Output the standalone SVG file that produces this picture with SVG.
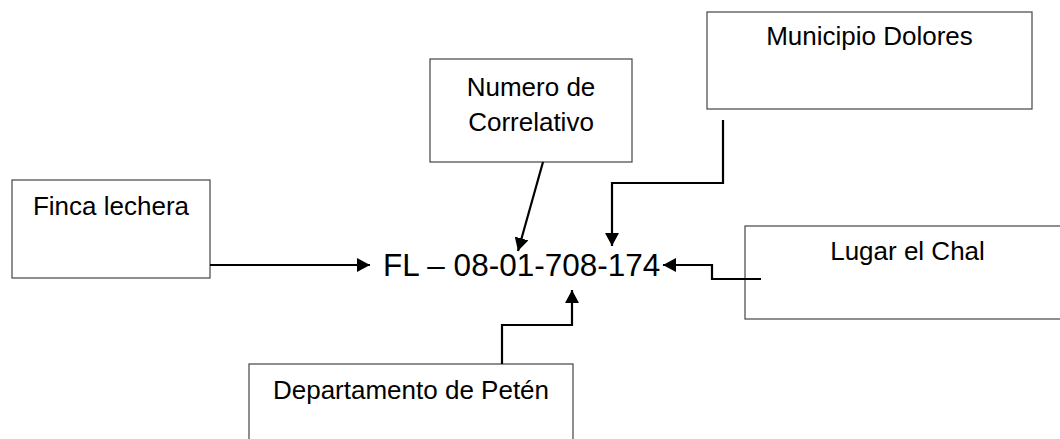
<svg xmlns="http://www.w3.org/2000/svg" width="1060" height="439" viewBox="0 0 1060 439">
  <style>
    .box { fill: #ffffff; stroke: #444444; stroke-width: 1.2; }
    .lbl { font-family: "Liberation Sans", Arial, sans-serif; font-size: 26px; fill: #000000; text-anchor: middle; }
    .code { font-family: "Liberation Sans", Arial, sans-serif; font-size: 31.5px; fill: #000000; }
    .conn { fill: none; stroke: #000000; stroke-width: 2.2; }
  </style>
  <defs>
    <marker id="arrow" viewBox="0 0 13 14" refX="13" refY="7" markerWidth="13" markerHeight="14" markerUnits="userSpaceOnUse" orient="auto">
      <path d="M0,0 L13,7 L0,14 Z" fill="#000000"/>
    </marker>
  </defs>
  <rect width="1060" height="439" fill="#ffffff"/>

  <g id="finca">
    <rect class="box" x="12" y="180" width="198" height="98"/>
    <text class="lbl" x="111" y="215">Finca lechera</text>
  </g>
  <g id="numero">
    <rect class="box" x="430" y="59" width="202" height="103"/>
    <text class="lbl" x="531" y="96">Numero de</text>
    <text class="lbl" x="531" y="131">Correlativo</text>
  </g>
  <g id="municipio">
    <rect class="box" x="707" y="12" width="325" height="97"/>
    <text class="lbl" x="869.5" y="45">Municipio Dolores</text>
  </g>
  <g id="lugar">
    <rect class="box" x="745" y="226" width="325" height="93"/>
    <text class="lbl" x="907.5" y="260">Lugar el Chal</text>
  </g>
  <g id="departamento">
    <rect class="box" x="249" y="364" width="324" height="90"/>
    <text class="lbl" x="411" y="399">Departamento de Petén</text>
  </g>
  <g id="codigo">
    <text class="code" x="383" y="276">FL – 08-01-708-174</text>
  </g>

  <g id="connectors">
    <path class="conn" d="M210,265 H370" marker-end="url(#arrow)"/>
    <path class="conn" d="M543,162 L518,251" marker-end="url(#arrow)"/>
    <path class="conn" d="M723,120 V183 H612 V246" marker-end="url(#arrow)"/>
    <path class="conn" d="M761,279 H712 V265 H663" marker-end="url(#arrow)"/>
    <path class="conn" d="M502,364 V325 H572 V290" marker-end="url(#arrow)"/>
  </g>
</svg>
